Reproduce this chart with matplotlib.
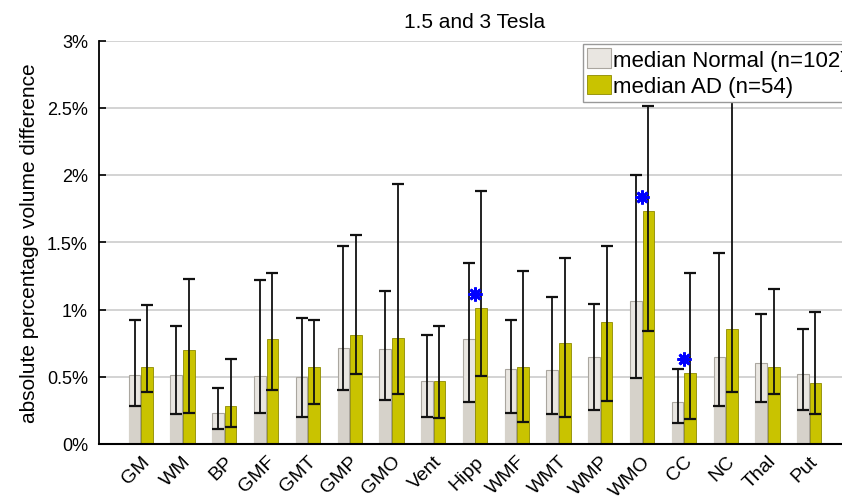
import numpy as np
import matplotlib
matplotlib.use('Agg')
import matplotlib.pyplot as plt
from matplotlib.ticker import FuncFormatter, MultipleLocator

plt.rcParams['font.family'] = ['Liberation Sans', 'DejaVu Sans']

# Region labels
regions = ['GM', 'WM', 'BP', 'GMF', 'GMT', 'GMP', 'GMO', 'Vent', 'Hipp',
           'WMF', 'WMT', 'WMP', 'WMO', 'CC', 'NC', 'Thal', 'Put']

# Normal group (n=102): median, lower and upper whisker (% volume difference)
normal_med = [0.51, 0.51, 0.23, 0.505, 0.50, 0.715, 0.71, 0.47, 0.78,
              0.555, 0.55, 0.645, 1.065, 0.31, 0.65, 0.60, 0.52]
normal_lo = [0.28, 0.22, 0.11, 0.23, 0.20, 0.405, 0.33, 0.20, 0.31,
             0.23, 0.22, 0.25, 0.49, 0.155, 0.28, 0.31, 0.255]
normal_hi = [0.92, 0.88, 0.42, 1.22, 0.94, 1.47, 1.14, 0.81, 1.345,
             0.92, 1.09, 1.04, 2.00, 0.555, 1.42, 0.97, 0.855]

# AD group (n=54)
ad_med = [0.575, 0.70, 0.28, 0.78, 0.57, 0.81, 0.785, 0.47, 1.01,
          0.57, 0.75, 0.91, 1.735, 0.53, 0.855, 0.57, 0.45]
ad_lo = [0.39, 0.23, 0.125, 0.40, 0.30, 0.52, 0.375, 0.195, 0.505,
         0.165, 0.20, 0.32, 0.84, 0.185, 0.39, 0.37, 0.22]
ad_hi = [1.035, 1.225, 0.63, 1.27, 0.92, 1.555, 1.935, 0.88, 1.88,
         1.285, 1.38, 1.47, 2.51, 1.27, 2.80, 1.15, 0.98]

# significant differences (marked with a blue asterisk)
sig_regions = ['Hipp', 'WMO', 'CC']
sig_values = [1.115, 1.84, 0.635]

gray_face = '#e9e6e1'
gray_dark = '#d6d2ca'
gray_edge = '#aaa69f'
yellow_face = '#c9c300'
yellow_edge = '#8e8a00'

fig = plt.figure(figsize=(8.42, 5.02), dpi=100)
ax = fig.add_axes([99 / 842, 57 / 502, 752 / 842, 403.5 / 502])

x = np.arange(1, len(regions) + 1)
w = 0.28
off = 0.15
n_med = np.array(normal_med)
n_lo = np.array(normal_lo)
n_hi = np.array(normal_hi)
a_med = np.array(ad_med)
a_lo = np.array(ad_lo)
a_hi = np.array(ad_hi)

# gray bars: light top part, darker part below lower whisker
ax.bar(x - off, n_med, width=w, color=gray_face, edgecolor=gray_edge,
       linewidth=0.8, zorder=2, label='median Normal (n=102)')
ax.bar(x - off, n_lo, width=w, color=gray_dark, edgecolor='none', zorder=2)
ax.bar(x + off, a_med, width=w, color=yellow_face, edgecolor=yellow_edge,
       linewidth=0.6, zorder=2, label='median AD (n=54)')

ax.errorbar(x - off, n_med, yerr=[n_med - n_lo, n_hi - n_med], fmt='none',
            ecolor='#111111', elinewidth=1.3, capsize=4.6, capthick=1.6, zorder=3)
ax.errorbar(x + off, a_med, yerr=[a_med - a_lo, a_hi - a_med], fmt='none',
            ecolor='#111111', elinewidth=1.3, capsize=4.6, capthick=1.6, zorder=3)

sig_x = [regions.index(r) + 1 for r in sig_regions]
ax.plot(sig_x, sig_values, linestyle='none', marker=(8, 2, 0), markersize=10,
        markeredgewidth=2.0, color='#0000ff', zorder=4)
ax.plot(sig_x, sig_values, linestyle='none', marker='o', markersize=5.5,
        markeredgewidth=0, color='#0000ff', zorder=4)

ax.set_xlim(0, 18)
ax.set_ylim(0, 3)
ax.yaxis.set_major_locator(MultipleLocator(0.5))
ax.yaxis.set_major_formatter(FuncFormatter(lambda v, p: f'{v:g}%'))
ax.set_xticks(x)
ax.set_xticklabels(regions, rotation=45, ha='right', rotation_mode='anchor',
                   fontsize=14)
ax.tick_params(axis='x', length=0, pad=6)
ax.tick_params(axis='y', direction='in', length=5, width=1.2, labelsize=13, pad=8)

ax.grid(True, axis='y', color='#cccccc', linewidth=1.2, zorder=0)
ax.set_axisbelow(True)
for s in ['top', 'right']:
    ax.spines[s].set_visible(False)
ax.spines['left'].set_linewidth(1.3)
ax.spines['bottom'].set_linewidth(1.5)

ax.set_title('1.5 and 3 Tesla', fontsize=15, pad=10)
ax.set_ylabel('absolute percentage volume difference', fontsize=15, labelpad=6)

leg = ax.legend(loc='upper left', bbox_to_anchor=(583 / 842, 1 - 45 / 502),
                bbox_transform=fig.transFigure, fontsize=16, frameon=True,
                fancybox=False, edgecolor='#999999', framealpha=1,
                handlelength=1.05, handleheight=0.95, handletextpad=0.1,
                borderpad=0.2, labelspacing=0.2, borderaxespad=0)
leg.set_zorder(10)

fig.savefig('out.png', dpi=100)
